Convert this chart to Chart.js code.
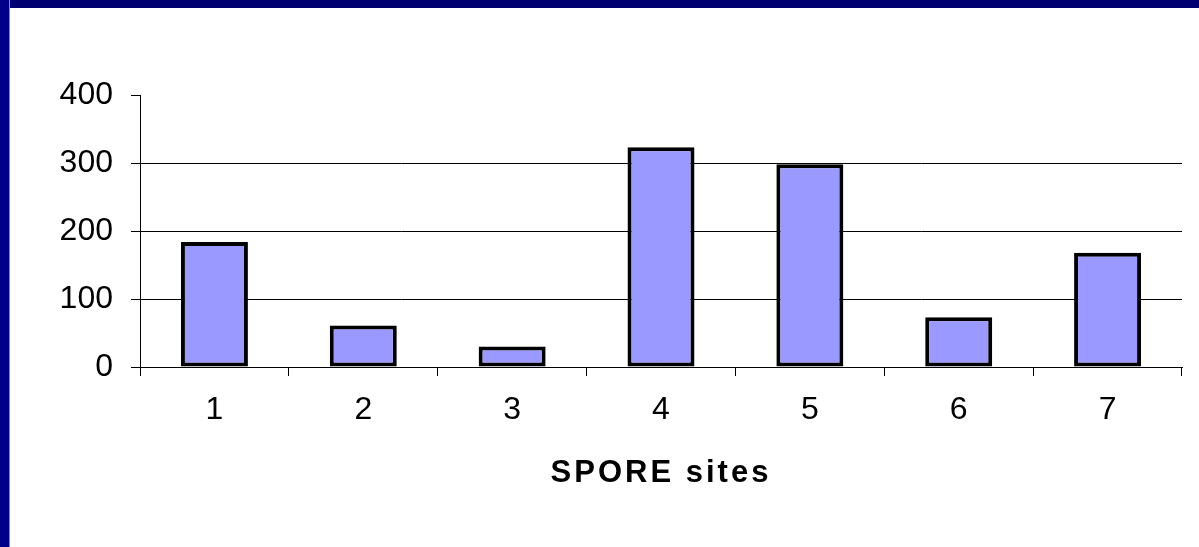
<!DOCTYPE html>
<html>
<head>
<meta charset="utf-8">
<script src="https://cdn.jsdelivr.net/npm/chart.js@4/dist/chart.umd.min.js"></script>
<style>
  html, body { margin: 0; padding: 0; background: #ffffff; }
  #wrap { position: relative; width: 1199px; height: 547px; overflow: hidden; background: #fff; }
  #c { position: absolute; left: 0; top: 0; }
  #topbar { position: absolute; left: 0; top: 0; width: 1199px; height: 8px; background: #000070; z-index: 2; }
  #leftbar { position: absolute; left: 0; top: 0; width: 9px; height: 547px; background: #000088; border-right: 1px solid #8a8a8a; z-index: 3; }
</style>
</head>
<body>
<div id="wrap">
  <canvas id="c" width="1199" height="547"></canvas>
  <div id="topbar"></div>
  <div id="leftbar"></div>
</div>
<script>
const categories = ['1', '2', '3', '4', '5', '6', '7'];
const values = [184, 61, 30, 323, 298, 73, 168];
const yTicks = [0, 100, 200, 300, 400];
const xTitle = 'SPORE sites';

const titleSpacing = {
  id: 'titleSpacing',
  beforeDraw(chart) { chart.ctx.letterSpacing = '3px'; },
  beforeDatasetsDraw(chart) { chart.ctx.letterSpacing = '0px'; },
  afterDraw(chart) { chart.ctx.letterSpacing = '0px'; }
};

const FONT = "'Liberation Sans', Arial, sans-serif";

new Chart(document.getElementById('c'), {
  type: 'bar',
  data: {
    labels: categories,
    datasets: [{
      data: values,
      backgroundColor: '#9999FF',
      borderColor: '#000000',
      borderWidth: 4,
      borderSkipped: false,
      categoryPercentage: 1.0,
      barPercentage: 0.45
    }]
  },
  options: {
    responsive: false,
    animation: false,
    layout: { padding: { left: 0, right: 17, top: 95, bottom: 0 } },
    plugins: { legend: { display: false }, tooltip: { enabled: false } },
    scales: {
      x: {
        afterFit(scale) { scale.height = 180; },
        grid: {
          offset: true,
          drawOnChartArea: false,
          drawTicks: true,
          tickLength: 9,
          color: '#000000',
          tickColor: '#000000',
          lineWidth: 1
        },
        border: { display: true, color: '#000000', width: 1 },
        ticks: {
          color: '#000000',
          font: { family: FONT, size: 32 },
          padding: 15,
          maxRotation: 0,
          z: 1
        },
        title: {
          display: true,
          text: xTitle,
          color: '#000000',
          font: { family: FONT, size: 31, weight: 'bold' },
          padding: { top: 0, bottom: 55 }
        }
      },
      y: {
        min: 0,
        max: 400,
        afterFit(scale) { scale.width = 140; },
        afterBuildTicks(scale) { scale.ticks = yTicks.map(v => ({ value: v })); },
        grid: {
          drawTicks: true,
          tickLength: 9,
          color: (ctx) => (ctx.tick && ctx.tick.value === 400) ? 'rgba(0,0,0,0)' : '#000000',
          tickColor: '#000000',
          lineWidth: 1
        },
        border: { display: true, color: '#000000', width: 1 },
        ticks: {
          color: '#000000',
          font: { family: FONT, size: 32 },
          padding: 18,
          z: 1
        }
      }
    }
  },
  plugins: [titleSpacing]
});
</script>
</body>
</html>
